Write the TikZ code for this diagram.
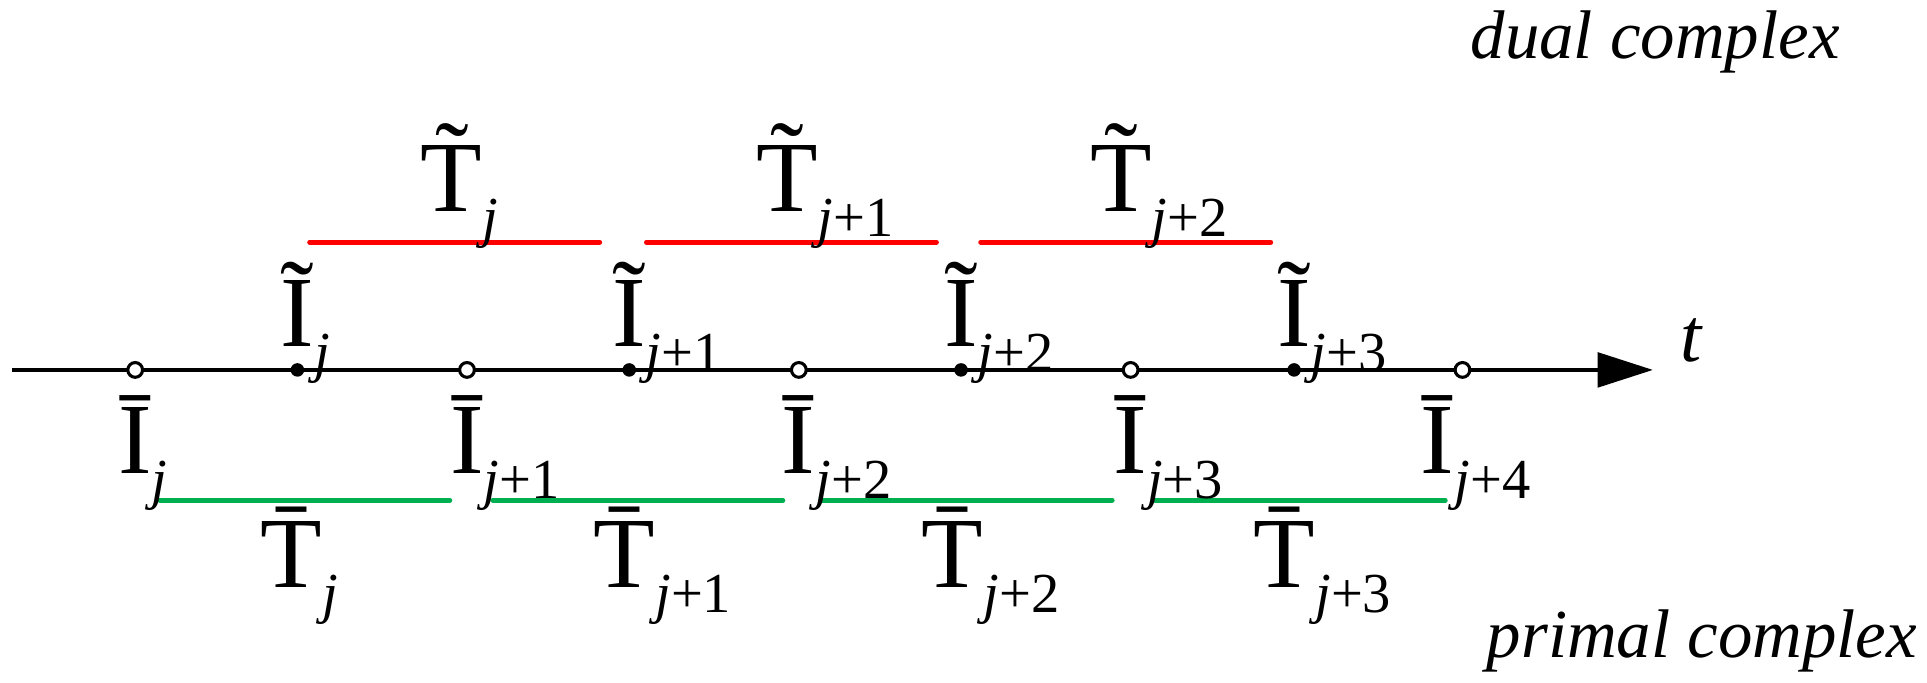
\documentclass[tikz,border=0pt]{standalone}
\usepackage{fontspec}
\setmainfont{Liberation Serif}
\usetikzlibrary{arrows.meta}
\newcommand{\sbj}[1]{\raisebox{-0.25em}{\fontsize{46}{46}\selectfont #1}}
\begin{document}
\begin{tikzpicture}[x=1pt,y=-1pt,
  lab/.style={anchor=base west,inner sep=0pt,font=\fontsize{82}{82}\selectfont},
  captxt/.style={anchor=base east,inner sep=0pt,font=\fontsize{56}{56}\selectfont\itshape},
  odot/.style={circle,draw=black,fill=white,line width=2.5pt,minimum size=12pt,inner sep=0pt},
  fdot/.style={circle,fill=black,minimum size=11pt,inner sep=0pt},
  redseg/.style={draw={rgb,255:red,255;green,0;blue,0},line width=4pt,line cap=round},
  grnseg/.style={draw={rgb,255:red,0;green,176;blue,80},line width=4pt,line cap=round}]
\useasboundingbox (0,0) rectangle (1568,555);
\coordinate (s) at (10,301);
\coordinate (e) at (1345,301);
\draw[line width=3.5pt,-{Triangle[length=45pt,width=28pt]}] (s) -- (e);
\node[inner sep=0pt,anchor=base,font=\fontsize{62}{62}\selectfont\itshape] (t) at (1376,294) {t};
\foreach \x/\n in {110/1,380/2,650/3,920/4,1190/5} \node[odot] (o\n) at (\x,301) {};
\foreach \x/\n in {242/1,512/2,782/3,1053/4} \node[fdot] (f\n) at (\x,301) {};
\foreach \a/\b/\n in {252/488/1,526/762/2,798/1034/3}{
  \coordinate (ra\n) at (\a,197); \coordinate (rb\n) at (\b,197);
  \draw[redseg] (ra\n) -- (rb\n);}
\foreach \a/\b/\n in {130/366/1,401/637/2,668/905/3,940/1176/4}{
  \coordinate (ga\n) at (\a,407); \coordinate (gb\n) at (\b,407);
  \draw[grnseg] (ga\n) -- (gb\n);}
\node[lab] (ti1) at (228,282) {\~{I}\sbj{\itshape j}};
\node[lab] (ti2) at (498,282) {\~{I}\sbj{\textit{j}+1}};
\node[lab] (ti3) at (768,282) {\~{I}\sbj{\textit{j}+2}};
\node[lab] (ti4) at (1039,282) {\~{I}\sbj{\textit{j}+3}};
\node[lab] (bi1) at (96,385) {\={I}\sbj{\itshape j}};
\node[lab] (bi2) at (366,385) {\={I}\sbj{\textit{j}+1}};
\node[lab] (bi3) at (636,385) {\={I}\sbj{\textit{j}+2}};
\node[lab] (bi4) at (906,385) {\={I}\sbj{\textit{j}+3}};
\node[lab] (bi5) at (1156,385) {\={I}\sbj{\textit{j}+4}};
\node[lab] (tt1) at (342,172) {\~{T}\sbj{\itshape j}};
\node[lab] (tt2) at (615,172) {\~{T}\sbj{\textit{j}+1}};
\node[lab] (tt3) at (887,172) {\~{T}\sbj{\textit{j}+2}};
\node[lab] (bt1) at (212,478) {\={T}\sbj{\itshape j}};
\node[lab] (bt2) at (483,478) {\={T}\sbj{\textit{j}+1}};
\node[lab] (bt3) at (750,478) {\={T}\sbj{\textit{j}+2}};
\node[lab] (bt4) at (1020,478) {\={T}\sbj{\textit{j}+3}};
\node[captxt] (dual) at (1497,48) {dual complex};
\node[captxt] (prim) at (1560,535) {primal complex};
\end{tikzpicture}
\end{document}
